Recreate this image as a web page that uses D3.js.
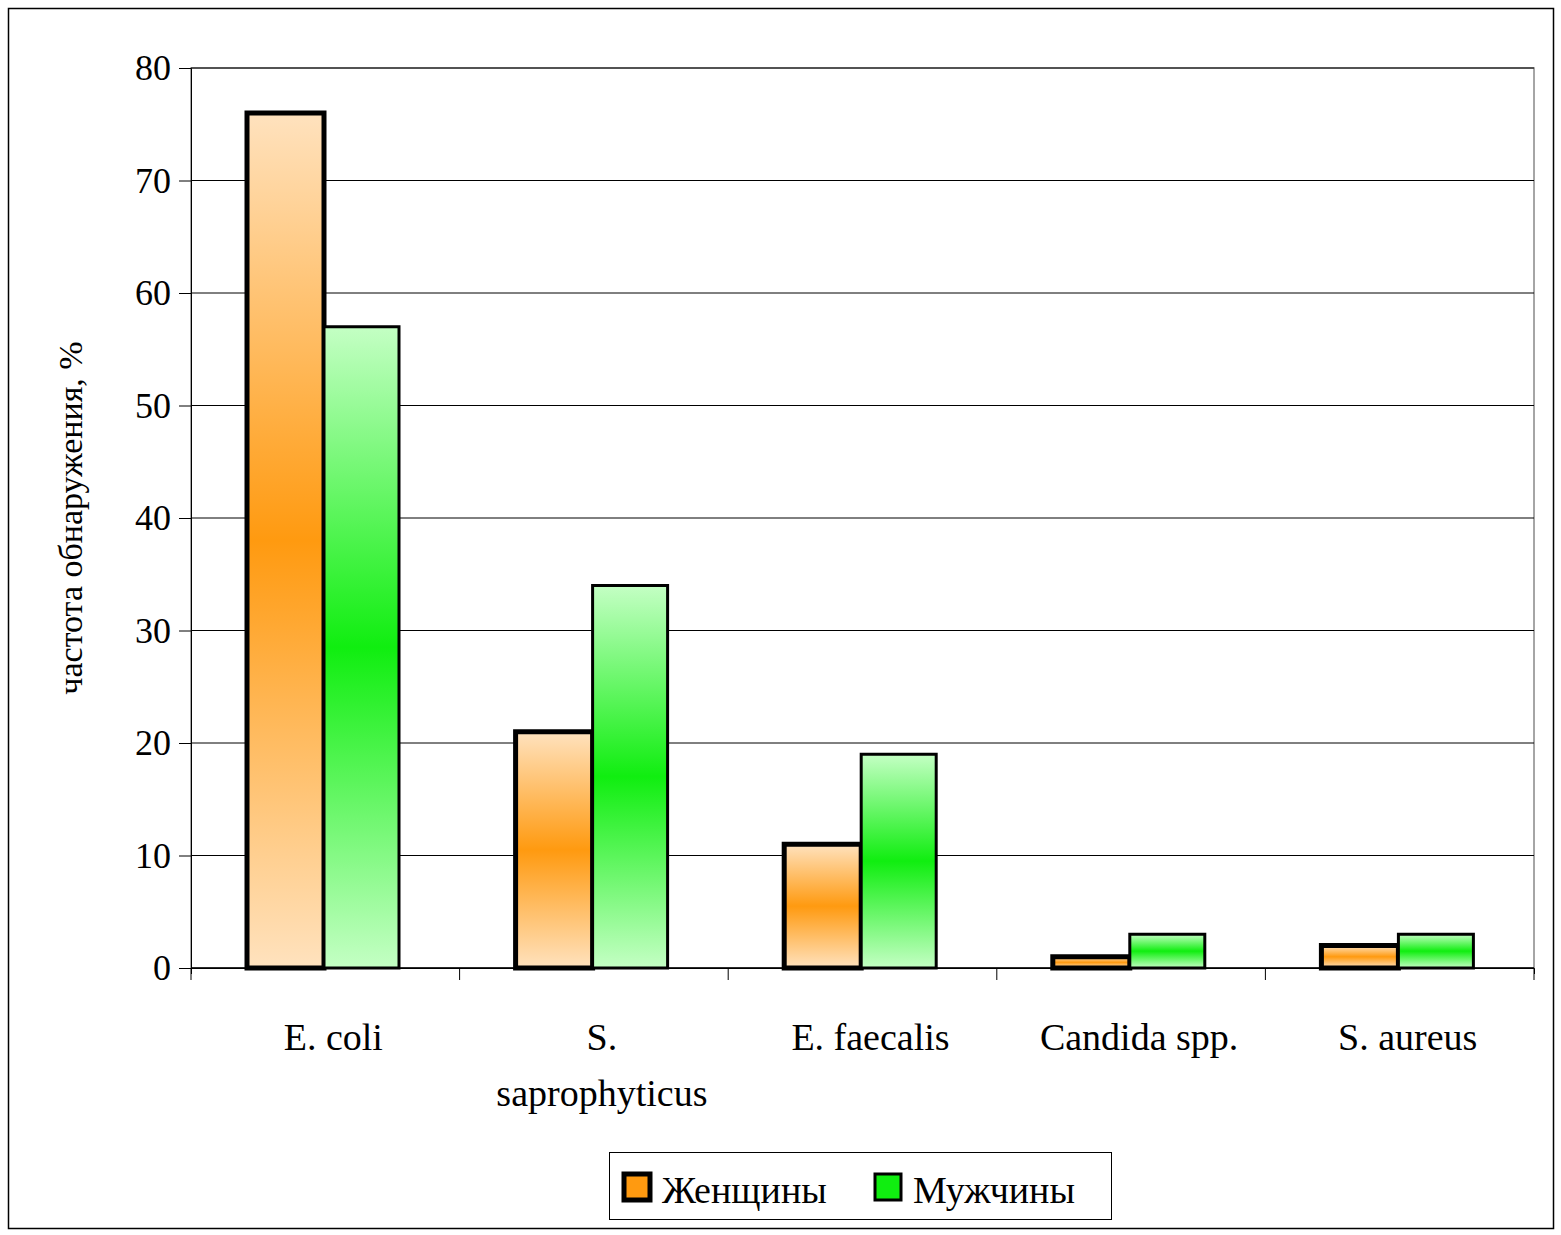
<!DOCTYPE html>
<html><head><meta charset="utf-8">
<script src="https://cdn.jsdelivr.net/npm/d3@7/dist/d3.min.js"></script>
<style>body{margin:0;background:#fff}svg{font-family:"Liberation Serif","Times New Roman",serif}</style>
</head><body><svg id="c" width="1561" height="1235"></svg>
<script>
const categories=[["E. coli"],["S.","saprophyticus"],["E. faecalis"],["Candida spp."],["S. aureus"]];
const women=[76,21,11,1,2];
const men=[57,34,19,3,3];
const yTicks=[0,10,20,30,40,50,60,70,80];
const seriesNames=["Женщины","Мужчины"];

const svg=d3.select("#c");
const L=191,R=1534,T=68,B=968;
svg.append("rect").attr("x",8.5).attr("y",8.5).attr("width",1545).attr("height",1220).attr("fill","#fff").attr("stroke","#000").attr("stroke-width",1.5);
const defs=svg.append("defs");
function grad(id,edge,mid){const g=defs.append("linearGradient").attr("id",id).attr("x1",0).attr("y1",0).attr("x2",0).attr("y2",1);
g.append("stop").attr("offset","0%").attr("stop-color",edge);g.append("stop").attr("offset","50%").attr("stop-color",mid);g.append("stop").attr("offset","100%").attr("stop-color",edge);}
grad("gw","#FFE2BE","#FF9A10");grad("gm","#C4FFC4","#10EE10");

const x=d3.scaleBand().domain(d3.range(categories.length)).range([L,R]);
const y=d3.scaleLinear().domain([0,80]).range([B,T]);
svg.append("rect").attr("x",L).attr("y",T).attr("width",R-L).attr("height",B-T).attr("fill","none").attr("stroke","#888").attr("stroke-width",1.5);
svg.append("g").selectAll("line").data(yTicks.slice(1)).join("line").attr("x1",L).attr("x2",R).attr("y1",d=>y(d)).attr("y2",d=>y(d)).attr("stroke","#000").attr("stroke-width",1);
const ya=svg.append("g").attr("transform",`translate(${L},0)`).call(d3.axisLeft(y).tickValues(yTicks).tickSize(12).tickPadding(8));
ya.select(".domain").attr("stroke","#000");
ya.selectAll("text").attr("font-size",36).attr("font-family","Liberation Serif");
const xa=svg.append("g").attr("transform",`translate(0,${B})`).call(d3.axisBottom(x).tickValues(d3.range(categories.length+1).map(i=>i)).tickFormat(""));
xa.selectAll(".tick").remove();
svg.append("line").attr("x1",L).attr("x2",R).attr("y1",B).attr("y2",B).attr("stroke","#000").attr("stroke-width",1.5);
svg.append("g").selectAll("line").data(d3.range(categories.length+1)).join("line")
 .attr("x1",i=>L+i*x.step()).attr("x2",i=>L+i*x.step()).attr("y1",B).attr("y2",B+12).attr("stroke","#000");
const bw=77,off=56;
const g=svg.append("g");
g.selectAll(".w").data(women).join("rect").attr("x",(d,i)=>x(i)+off).attr("y",d=>y(d)).attr("width",bw).attr("height",d=>B-y(d)).attr("fill","url(#gw)").attr("stroke","#000").attr("stroke-width",5);
g.selectAll(".m").data(men).join("rect").attr("x",(d,i)=>x(i)+off+bw).attr("y",d=>y(d)).attr("width",bw-2).attr("height",d=>B-y(d)).attr("fill","url(#gm)").attr("stroke","#000").attr("stroke-width",3);
categories.forEach((c,i)=>{c.forEach((t,j)=>svg.append("text").attr("x",x(i)+x.bandwidth()/2+8).attr("y",1050+j*56).attr("text-anchor","middle").attr("font-size",38).text(t));});
svg.append("text").attr("transform","translate(82,518) rotate(-90)").attr("text-anchor","middle").attr("font-size",34).text("частота обнаружения, %");
svg.append("rect").attr("x",609.5).attr("y",1152.5).attr("width",502).attr("height",67).attr("fill","#fff").attr("stroke","#000");
const lg=[{n:seriesNames[0],f:"#FF9A10",x:622,sw:5},{n:seriesNames[1],f:"#10EE10",x:873,sw:3}];
lg.forEach(l=>{svg.append("rect").attr("x",l.x+2).attr("y",1174).attr("width",26).attr("height",26).attr("fill",l.f).attr("stroke","#000").attr("stroke-width",l.sw);
svg.append("text").attr("x",l.x+40).attr("y",1203).attr("font-size",38).text(l.n);});
</script></body></html>
